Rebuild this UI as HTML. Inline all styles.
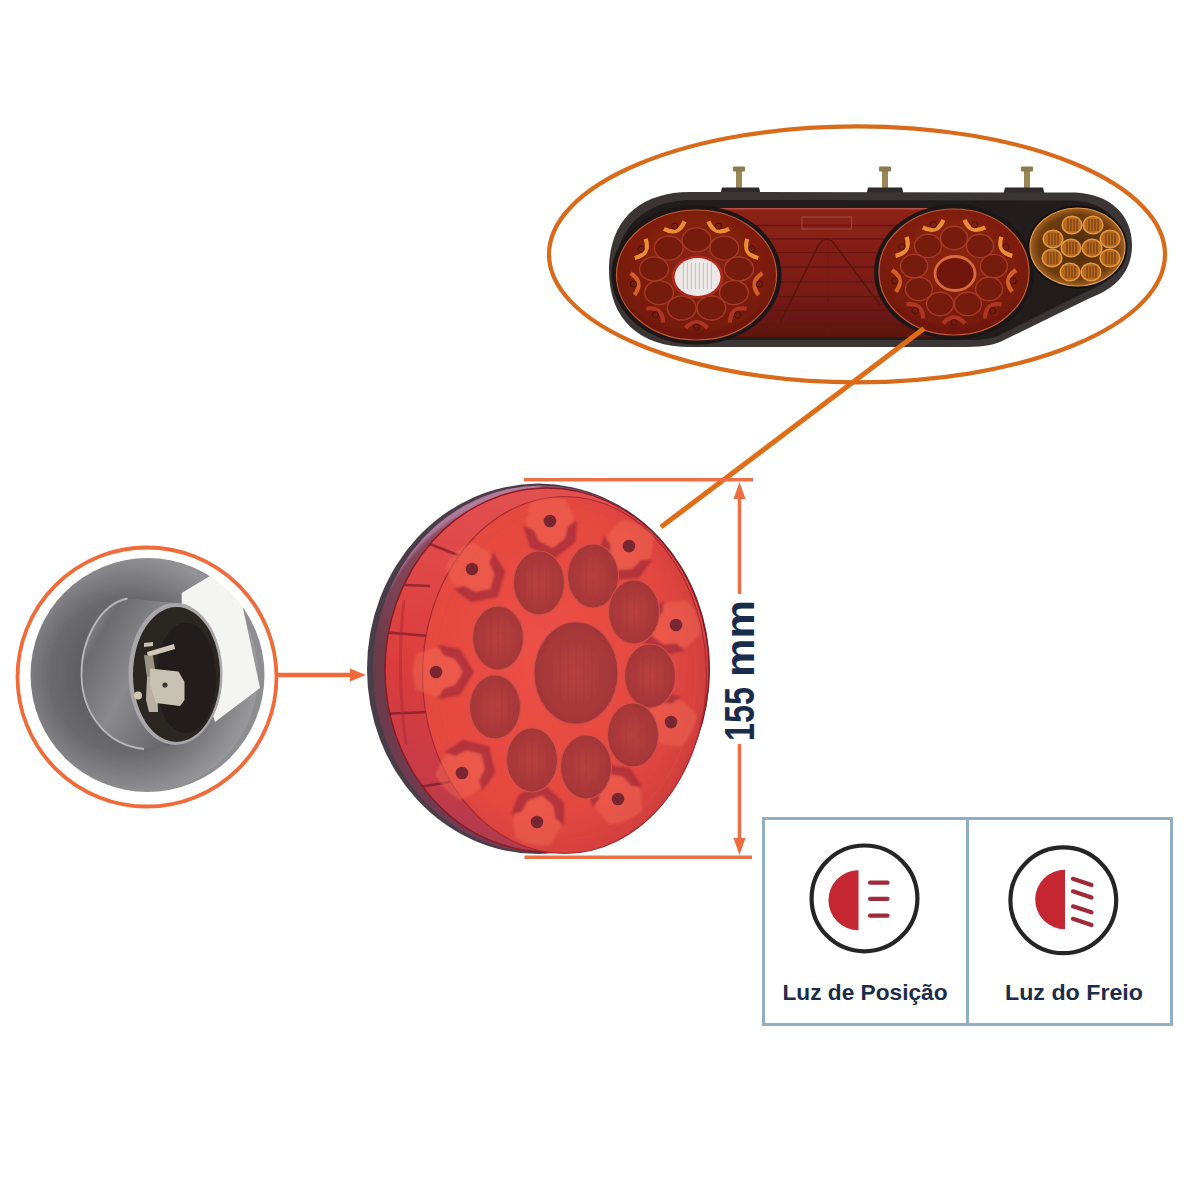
<!DOCTYPE html>
<html><head><meta charset="utf-8">
<style>
html,body{margin:0;padding:0;background:#fff;width:1200px;height:1200px;overflow:hidden}
svg{display:block;position:absolute;left:0;top:0}
.t{font-family:"Liberation Sans",sans-serif;font-weight:bold}
</style></head><body>
<svg width="1200" height="1200" viewBox="0 0 1200 1200">
<defs>
  <radialGradient id="faceG" cx="0.42" cy="0.45" r="0.62">
    <stop offset="0" stop-color="#ec5046"/>
    <stop offset="0.7" stop-color="#e44840"/>
    <stop offset="0.92" stop-color="#d4403e"/>
    <stop offset="1" stop-color="#c03a3c"/>
  </radialGradient>
  <radialGradient id="ledG" cx="0.5" cy="0.5" r="0.55">
    <stop offset="0" stop-color="#b8403e"/>
    <stop offset="1" stop-color="#a03438"/>
  </radialGradient>
  <radialGradient id="grayG" cx="0.45" cy="0.5" r="0.55">
    <stop offset="0" stop-color="#505052"/>
    <stop offset="0.6" stop-color="#6a6a6c"/>
    <stop offset="0.86" stop-color="#8a8a8c"/>
    <stop offset="1" stop-color="#9a9a9c"/>
  </radialGradient>
  <radialGradient id="redLampG" cx="0.5" cy="0.35" r="0.7">
    <stop offset="0" stop-color="#8a2412"/>
    <stop offset="0.6" stop-color="#7e1e10"/>
    <stop offset="1" stop-color="#6a160e"/>
  </radialGradient>
  <radialGradient id="amberG" cx="0.5" cy="0.5" r="0.55">
    <stop offset="0" stop-color="#4e2a0c"/>
    <stop offset="0.75" stop-color="#6e3c10"/>
    <stop offset="0.92" stop-color="#a86424"/>
    <stop offset="1" stop-color="#c88038"/>
  </radialGradient>
  <linearGradient id="rimG" x1="0" y1="0" x2="1" y2="1">
    <stop offset="0" stop-color="#3a2a30"/>
    <stop offset="1" stop-color="#4a3038"/>
  </linearGradient>
  <linearGradient id="bandG" x1="0.3" y1="0" x2="0.15" y2="1">
    <stop offset="0" stop-color="#e25050"/>
    <stop offset="0.5" stop-color="#dc3e3c"/>
    <stop offset="0.8" stop-color="#c83a48"/>
    <stop offset="1" stop-color="#a83a52"/>
  </linearGradient>
  <linearGradient id="wallG" x1="0.3" y1="0" x2="0.1" y2="1">
    <stop offset="0" stop-color="#9a5068"/>
    <stop offset="0.5" stop-color="#6a3a4a"/>
    <stop offset="1" stop-color="#743a54"/>
  </linearGradient>
  <filter id="soft" x="-30%" y="-30%" width="160%" height="160%"><feGaussianBlur stdDeviation="1.5"/></filter>
  <filter id="soft2" x="-5%" y="-5%" width="110%" height="110%"><feGaussianBlur stdDeviation="0.7"/></filter>
  <linearGradient id="cylG" x1="0" y1="0.2" x2="1" y2="0.8">
    <stop offset="0" stop-color="#8e8e90"/>
    <stop offset="0.12" stop-color="#6c6c6e"/>
    <stop offset="0.4" stop-color="#8a8a8c"/>
    <stop offset="0.75" stop-color="#6a6a6c"/>
    <stop offset="1" stop-color="#505052"/>
  </linearGradient>
  <linearGradient id="panelG" x1="0" y1="0" x2="0" y2="1">
    <stop offset="0" stop-color="#8c2219"/>
    <stop offset="0.6" stop-color="#7c1c16"/>
    <stop offset="1" stop-color="#5e1410"/>
  </linearGradient>
  <filter id="soft3" x="-30%" y="-30%" width="160%" height="160%"><feGaussianBlur stdDeviation="0.9"/></filter>
</defs>

<ellipse cx="857" cy="254.3" rx="308" ry="128" fill="none" stroke="#d86a1a" stroke-width="4.2"/>
<g id="bar" filter="url(#soft2)">
<rect x="736" y="170" width="6" height="18" fill="#9a8654"/>
<rect x="733" y="166.5" width="12" height="5" rx="1" fill="#8a7a50"/>
<path d="M719 200 L722 187.5 L759 187.5 L762 200 Z" fill="#2e2c2c"/>
<rect x="882" y="170" width="6" height="18" fill="#9a8654"/>
<rect x="879" y="166.5" width="12" height="5" rx="1" fill="#8a7a50"/>
<path d="M865 200 L868 187.5 L902 187.5 L905 200 Z" fill="#2e2c2c"/>
<rect x="1024" y="170" width="6" height="18" fill="#9a8654"/>
<rect x="1021" y="166.5" width="12" height="5" rx="1" fill="#8a7a50"/>
<path d="M1002 200 L1005 187.5 L1043 187.5 L1046 200 Z" fill="#2e2c2c"/>
<path d="M690 192 L1075 192.5 C1110 194 1133 215 1132 247 C1131 275 1112 290 1090 298 L1000 342 C990 346 980 347 960 347 L690 347 C640 347 609 320 609 270 C609 220 640 192 690 192 Z" fill="#3a3636"/>
<path d="M692 200 L1072 200.5 C1104 202 1124 220 1124 247 C1123 272 1106 284 1086 292 L998 336 C988 340 978 340 960 340 L692 340 C648 340 616 316 616 270 C616 225 648 200 692 200 Z" fill="#201c1c"/>
<rect x="700" y="208" width="240" height="129" fill="url(#panelG)"/>
<line x1="700" y1="225.5" x2="940" y2="225.5" stroke="#5e1410" stroke-width="1.3" opacity="0.8"/>
<line x1="700" y1="239.0" x2="940" y2="239.0" stroke="#5e1410" stroke-width="1.3" opacity="0.8"/>
<line x1="700" y1="252.7" x2="940" y2="252.7" stroke="#5e1410" stroke-width="1.3" opacity="0.8"/>
<line x1="700" y1="267.0" x2="940" y2="267.0" stroke="#5e1410" stroke-width="1.3" opacity="0.8"/>
<line x1="700" y1="282.0" x2="940" y2="282.0" stroke="#5e1410" stroke-width="1.3" opacity="0.8"/>
<line x1="700" y1="296.7" x2="940" y2="296.7" stroke="#5e1410" stroke-width="1.3" opacity="0.8"/>
<line x1="700" y1="310.7" x2="940" y2="310.7" stroke="#5e1410" stroke-width="1.3" opacity="0.8"/>
<line x1="700" y1="324.7" x2="940" y2="324.7" stroke="#5e1410" stroke-width="1.3" opacity="0.8"/>
<line x1="828" y1="240" x2="828" y2="336" stroke="#6a1812" stroke-width="1" opacity="0.6"/>
<path d="M780 323 L818 246 Q827 232 836 246 L880 305" stroke="#5a120e" stroke-width="1.6" fill="none"/>
<rect x="802" y="217" width="49.5" height="12" fill="none" stroke="#a04a40" stroke-width="1.1"/>
<line x1="700" y1="208.8" x2="940" y2="208.8" stroke="#b85048" stroke-width="1.4"/>
<ellipse cx="696.5" cy="275.0" rx="85.0" ry="69.5" fill="#1e1614" />
<ellipse cx="696.5" cy="275.0" rx="80.0" ry="65.0" fill="url(#redLampG)" stroke="#c05a3a" stroke-width="1.2"/>
<ellipse cx="696.5" cy="239.9" rx="14.4" ry="12.0" fill="#741a10" stroke="#a83a26" stroke-width="1.4"/>
<ellipse cx="724.3" cy="248.1" rx="14.4" ry="12.0" fill="#741a10" stroke="#a83a26" stroke-width="1.4"/>
<ellipse cx="739.0" cy="268.9" rx="14.4" ry="12.0" fill="#741a10" stroke="#a83a26" stroke-width="1.4"/>
<ellipse cx="733.9" cy="292.6" rx="14.4" ry="12.0" fill="#741a10" stroke="#a83a26" stroke-width="1.4"/>
<ellipse cx="711.3" cy="308.0" rx="14.4" ry="12.0" fill="#741a10" stroke="#a83a26" stroke-width="1.4"/>
<ellipse cx="681.7" cy="308.0" rx="14.4" ry="12.0" fill="#741a10" stroke="#a83a26" stroke-width="1.4"/>
<ellipse cx="659.1" cy="292.6" rx="14.4" ry="12.0" fill="#741a10" stroke="#a83a26" stroke-width="1.4"/>
<ellipse cx="654.0" cy="268.9" rx="14.4" ry="12.0" fill="#741a10" stroke="#a83a26" stroke-width="1.4"/>
<ellipse cx="668.7" cy="248.1" rx="14.4" ry="12.0" fill="#741a10" stroke="#a83a26" stroke-width="1.4"/>
<path d="M707.4 225.1 Q718.4 237.1 729.4 225.1" transform="rotate(20.0 718.4 226.1)" stroke="#f09438" stroke-width="4.2" fill="none" opacity="0.95"/>
<circle cx="718.4" cy="226.1" r="3" fill="none" stroke="#4a1208" stroke-width="1" transform="rotate(20.0 718.4 226.1)"/>
<path d="M740.9 248.0 Q751.9 260.0 762.9 248.0" transform="rotate(60.0 751.9 249.0)" stroke="#f09438" stroke-width="4.2" fill="none" opacity="0.95"/>
<circle cx="751.9" cy="249.0" r="3" fill="none" stroke="#4a1208" stroke-width="1" transform="rotate(60.0 751.9 249.0)"/>
<path d="M748.5 283.0 Q759.5 295.0 770.5 283.0" transform="rotate(100.0 759.5 284.0)" stroke="#e06a2c" stroke-width="4.2" fill="none" opacity="0.85"/>
<circle cx="759.5" cy="284.0" r="3" fill="none" stroke="#4a1208" stroke-width="1" transform="rotate(100.0 759.5 284.0)"/>
<path d="M726.6 313.8 Q737.6 325.8 748.6 313.8" transform="rotate(140.0 737.6 314.8)" stroke="#c8402a" stroke-width="4.2" fill="none" opacity="0.7"/>
<circle cx="737.6" cy="314.8" r="3" fill="none" stroke="#4a1208" stroke-width="1" transform="rotate(140.0 737.6 314.8)"/>
<path d="M685.5 326.0 Q696.5 338.0 707.5 326.0" transform="rotate(180.0 696.5 327.0)" stroke="#c8402a" stroke-width="4.2" fill="none" opacity="0.7"/>
<circle cx="696.5" cy="327.0" r="3" fill="none" stroke="#4a1208" stroke-width="1" transform="rotate(180.0 696.5 327.0)"/>
<path d="M644.4 313.8 Q655.4 325.8 666.4 313.8" transform="rotate(220.0 655.4 314.8)" stroke="#c8402a" stroke-width="4.2" fill="none" opacity="0.7"/>
<circle cx="655.4" cy="314.8" r="3" fill="none" stroke="#4a1208" stroke-width="1" transform="rotate(220.0 655.4 314.8)"/>
<path d="M622.5 283.0 Q633.5 295.0 644.5 283.0" transform="rotate(260.0 633.5 284.0)" stroke="#e06a2c" stroke-width="4.2" fill="none" opacity="0.85"/>
<circle cx="633.5" cy="284.0" r="3" fill="none" stroke="#4a1208" stroke-width="1" transform="rotate(260.0 633.5 284.0)"/>
<path d="M630.1 248.0 Q641.1 260.0 652.1 248.0" transform="rotate(300.0 641.1 249.0)" stroke="#f09438" stroke-width="4.2" fill="none" opacity="0.95"/>
<circle cx="641.1" cy="249.0" r="3" fill="none" stroke="#4a1208" stroke-width="1" transform="rotate(300.0 641.1 249.0)"/>
<path d="M663.6 225.1 Q674.6 237.1 685.6 225.1" transform="rotate(340.0 674.6 226.1)" stroke="#f09438" stroke-width="4.2" fill="none" opacity="0.95"/>
<circle cx="674.6" cy="226.1" r="3" fill="none" stroke="#4a1208" stroke-width="1" transform="rotate(340.0 674.6 226.1)"/>
<ellipse cx="697.5" cy="277.0" rx="26.0" ry="21.5" fill="#b02a1e" />
<ellipse cx="697.5" cy="277.0" rx="23.0" ry="19.0" fill="#ece8e8" />
<line x1="683.5" y1="263.0" x2="683.5" y2="289.0" stroke="#c8c2c2" stroke-width="1"/>
<line x1="687.5" y1="263.0" x2="687.5" y2="289.0" stroke="#c8c2c2" stroke-width="1"/>
<line x1="691.5" y1="263.0" x2="691.5" y2="289.0" stroke="#c8c2c2" stroke-width="1"/>
<line x1="695.5" y1="263.0" x2="695.5" y2="289.0" stroke="#c8c2c2" stroke-width="1"/>
<line x1="699.5" y1="263.0" x2="699.5" y2="289.0" stroke="#c8c2c2" stroke-width="1"/>
<line x1="703.5" y1="263.0" x2="703.5" y2="289.0" stroke="#c8c2c2" stroke-width="1"/>
<line x1="707.5" y1="263.0" x2="707.5" y2="289.0" stroke="#c8c2c2" stroke-width="1"/>
<line x1="711.5" y1="263.0" x2="711.5" y2="289.0" stroke="#c8c2c2" stroke-width="1"/>
<ellipse cx="954.0" cy="272.0" rx="80.0" ry="67.5" fill="#1e1614" />
<ellipse cx="954.0" cy="272.0" rx="75.0" ry="63.0" fill="url(#redLampG)" stroke="#c05a3a" stroke-width="1.2"/>
<ellipse cx="954.0" cy="238.0" rx="13.5" ry="11.7" fill="#741a10" stroke="#a83a26" stroke-width="1.4"/>
<ellipse cx="980.0" cy="245.9" rx="13.5" ry="11.7" fill="#741a10" stroke="#a83a26" stroke-width="1.4"/>
<ellipse cx="993.9" cy="266.1" rx="13.5" ry="11.7" fill="#741a10" stroke="#a83a26" stroke-width="1.4"/>
<ellipse cx="989.1" cy="289.0" rx="13.5" ry="11.7" fill="#741a10" stroke="#a83a26" stroke-width="1.4"/>
<ellipse cx="967.9" cy="304.0" rx="13.5" ry="11.7" fill="#741a10" stroke="#a83a26" stroke-width="1.4"/>
<ellipse cx="940.1" cy="304.0" rx="13.5" ry="11.7" fill="#741a10" stroke="#a83a26" stroke-width="1.4"/>
<ellipse cx="918.9" cy="289.0" rx="13.5" ry="11.7" fill="#741a10" stroke="#a83a26" stroke-width="1.4"/>
<ellipse cx="914.1" cy="266.1" rx="13.5" ry="11.7" fill="#741a10" stroke="#a83a26" stroke-width="1.4"/>
<ellipse cx="928.0" cy="245.9" rx="13.5" ry="11.7" fill="#741a10" stroke="#a83a26" stroke-width="1.4"/>
<path d="M963.5 223.6 Q974.5 235.6 985.5 223.6" transform="rotate(20.0 974.5 224.6)" stroke="#f09438" stroke-width="4.2" fill="none" opacity="0.95"/>
<circle cx="974.5" cy="224.6" r="3" fill="none" stroke="#4a1208" stroke-width="1" transform="rotate(20.0 974.5 224.6)"/>
<path d="M995.0 245.8 Q1006.0 257.8 1017.0 245.8" transform="rotate(60.0 1006.0 246.8)" stroke="#f09438" stroke-width="4.2" fill="none" opacity="0.95"/>
<circle cx="1006.0" cy="246.8" r="3" fill="none" stroke="#4a1208" stroke-width="1" transform="rotate(60.0 1006.0 246.8)"/>
<path d="M1002.1 279.8 Q1013.1 291.8 1024.1 279.8" transform="rotate(100.0 1013.1 280.8)" stroke="#e06a2c" stroke-width="4.2" fill="none" opacity="0.85"/>
<circle cx="1013.1" cy="280.8" r="3" fill="none" stroke="#4a1208" stroke-width="1" transform="rotate(100.0 1013.1 280.8)"/>
<path d="M981.6 309.6 Q992.6 321.6 1003.6 309.6" transform="rotate(140.0 992.6 310.6)" stroke="#c8402a" stroke-width="4.2" fill="none" opacity="0.7"/>
<circle cx="992.6" cy="310.6" r="3" fill="none" stroke="#4a1208" stroke-width="1" transform="rotate(140.0 992.6 310.6)"/>
<path d="M943.0 321.4 Q954.0 333.4 965.0 321.4" transform="rotate(180.0 954.0 322.4)" stroke="#c8402a" stroke-width="4.2" fill="none" opacity="0.7"/>
<circle cx="954.0" cy="322.4" r="3" fill="none" stroke="#4a1208" stroke-width="1" transform="rotate(180.0 954.0 322.4)"/>
<path d="M904.4 309.6 Q915.4 321.6 926.4 309.6" transform="rotate(220.0 915.4 310.6)" stroke="#c8402a" stroke-width="4.2" fill="none" opacity="0.7"/>
<circle cx="915.4" cy="310.6" r="3" fill="none" stroke="#4a1208" stroke-width="1" transform="rotate(220.0 915.4 310.6)"/>
<path d="M883.9 279.8 Q894.9 291.8 905.9 279.8" transform="rotate(260.0 894.9 280.8)" stroke="#e06a2c" stroke-width="4.2" fill="none" opacity="0.85"/>
<circle cx="894.9" cy="280.8" r="3" fill="none" stroke="#4a1208" stroke-width="1" transform="rotate(260.0 894.9 280.8)"/>
<path d="M891.0 245.8 Q902.0 257.8 913.0 245.8" transform="rotate(300.0 902.0 246.8)" stroke="#f09438" stroke-width="4.2" fill="none" opacity="0.95"/>
<circle cx="902.0" cy="246.8" r="3" fill="none" stroke="#4a1208" stroke-width="1" transform="rotate(300.0 902.0 246.8)"/>
<path d="M922.5 223.6 Q933.5 235.6 944.5 223.6" transform="rotate(340.0 933.5 224.6)" stroke="#f09438" stroke-width="4.2" fill="none" opacity="0.95"/>
<circle cx="933.5" cy="224.6" r="3" fill="none" stroke="#4a1208" stroke-width="1" transform="rotate(340.0 933.5 224.6)"/>
<ellipse cx="955.0" cy="273.5" rx="20.0" ry="17.0" fill="#701810" stroke="#d86a3a" stroke-width="2.8"/>
<ellipse cx="1077.5" cy="247.0" rx="50.0" ry="41.5" fill="#141111" />
<ellipse cx="1077.5" cy="247.0" rx="47.5" ry="39.0" fill="url(#amberG)" stroke="#d89a50" stroke-width="1.2"/>
<ellipse cx="1072.0" cy="225.0" rx="9.8" ry="8.8" fill="#b8681e" stroke="#e49a44" stroke-width="1.6"/>
<line x1="1068" y1="219" x2="1068" y2="231" stroke="#6a3810" stroke-width="1.2" opacity="0.85"/>
<line x1="1071" y1="219" x2="1071" y2="231" stroke="#6a3810" stroke-width="1.2" opacity="0.85"/>
<line x1="1074" y1="219" x2="1074" y2="231" stroke="#6a3810" stroke-width="1.2" opacity="0.85"/>
<line x1="1077" y1="219" x2="1077" y2="231" stroke="#6a3810" stroke-width="1.2" opacity="0.85"/>
<ellipse cx="1093.0" cy="225.0" rx="9.8" ry="8.8" fill="#b8681e" stroke="#e49a44" stroke-width="1.6"/>
<line x1="1089" y1="219" x2="1089" y2="231" stroke="#6a3810" stroke-width="1.2" opacity="0.85"/>
<line x1="1092" y1="219" x2="1092" y2="231" stroke="#6a3810" stroke-width="1.2" opacity="0.85"/>
<line x1="1095" y1="219" x2="1095" y2="231" stroke="#6a3810" stroke-width="1.2" opacity="0.85"/>
<line x1="1098" y1="219" x2="1098" y2="231" stroke="#6a3810" stroke-width="1.2" opacity="0.85"/>
<ellipse cx="1053.0" cy="239.0" rx="9.8" ry="8.8" fill="#b8681e" stroke="#e49a44" stroke-width="1.6"/>
<line x1="1049" y1="233" x2="1049" y2="245" stroke="#6a3810" stroke-width="1.2" opacity="0.85"/>
<line x1="1052" y1="233" x2="1052" y2="245" stroke="#6a3810" stroke-width="1.2" opacity="0.85"/>
<line x1="1055" y1="233" x2="1055" y2="245" stroke="#6a3810" stroke-width="1.2" opacity="0.85"/>
<line x1="1058" y1="233" x2="1058" y2="245" stroke="#6a3810" stroke-width="1.2" opacity="0.85"/>
<ellipse cx="1110.0" cy="239.0" rx="9.8" ry="8.8" fill="#b8681e" stroke="#e49a44" stroke-width="1.6"/>
<line x1="1106" y1="233" x2="1106" y2="245" stroke="#6a3810" stroke-width="1.2" opacity="0.85"/>
<line x1="1109" y1="233" x2="1109" y2="245" stroke="#6a3810" stroke-width="1.2" opacity="0.85"/>
<line x1="1112" y1="233" x2="1112" y2="245" stroke="#6a3810" stroke-width="1.2" opacity="0.85"/>
<line x1="1115" y1="233" x2="1115" y2="245" stroke="#6a3810" stroke-width="1.2" opacity="0.85"/>
<ellipse cx="1071.0" cy="248.0" rx="9.8" ry="8.8" fill="#b8681e" stroke="#e49a44" stroke-width="1.6"/>
<line x1="1067" y1="242" x2="1067" y2="254" stroke="#6a3810" stroke-width="1.2" opacity="0.85"/>
<line x1="1070" y1="242" x2="1070" y2="254" stroke="#6a3810" stroke-width="1.2" opacity="0.85"/>
<line x1="1073" y1="242" x2="1073" y2="254" stroke="#6a3810" stroke-width="1.2" opacity="0.85"/>
<line x1="1076" y1="242" x2="1076" y2="254" stroke="#6a3810" stroke-width="1.2" opacity="0.85"/>
<ellipse cx="1092.0" cy="248.0" rx="9.8" ry="8.8" fill="#b8681e" stroke="#e49a44" stroke-width="1.6"/>
<line x1="1088" y1="242" x2="1088" y2="254" stroke="#6a3810" stroke-width="1.2" opacity="0.85"/>
<line x1="1091" y1="242" x2="1091" y2="254" stroke="#6a3810" stroke-width="1.2" opacity="0.85"/>
<line x1="1094" y1="242" x2="1094" y2="254" stroke="#6a3810" stroke-width="1.2" opacity="0.85"/>
<line x1="1097" y1="242" x2="1097" y2="254" stroke="#6a3810" stroke-width="1.2" opacity="0.85"/>
<ellipse cx="1052.0" cy="258.0" rx="9.8" ry="8.8" fill="#b8681e" stroke="#e49a44" stroke-width="1.6"/>
<line x1="1048" y1="252" x2="1048" y2="264" stroke="#6a3810" stroke-width="1.2" opacity="0.85"/>
<line x1="1051" y1="252" x2="1051" y2="264" stroke="#6a3810" stroke-width="1.2" opacity="0.85"/>
<line x1="1054" y1="252" x2="1054" y2="264" stroke="#6a3810" stroke-width="1.2" opacity="0.85"/>
<line x1="1057" y1="252" x2="1057" y2="264" stroke="#6a3810" stroke-width="1.2" opacity="0.85"/>
<ellipse cx="1110.0" cy="258.0" rx="9.8" ry="8.8" fill="#b8681e" stroke="#e49a44" stroke-width="1.6"/>
<line x1="1106" y1="252" x2="1106" y2="264" stroke="#6a3810" stroke-width="1.2" opacity="0.85"/>
<line x1="1109" y1="252" x2="1109" y2="264" stroke="#6a3810" stroke-width="1.2" opacity="0.85"/>
<line x1="1112" y1="252" x2="1112" y2="264" stroke="#6a3810" stroke-width="1.2" opacity="0.85"/>
<line x1="1115" y1="252" x2="1115" y2="264" stroke="#6a3810" stroke-width="1.2" opacity="0.85"/>
<ellipse cx="1070.0" cy="272.0" rx="9.8" ry="8.8" fill="#b8681e" stroke="#e49a44" stroke-width="1.6"/>
<line x1="1066" y1="266" x2="1066" y2="278" stroke="#6a3810" stroke-width="1.2" opacity="0.85"/>
<line x1="1069" y1="266" x2="1069" y2="278" stroke="#6a3810" stroke-width="1.2" opacity="0.85"/>
<line x1="1072" y1="266" x2="1072" y2="278" stroke="#6a3810" stroke-width="1.2" opacity="0.85"/>
<line x1="1075" y1="266" x2="1075" y2="278" stroke="#6a3810" stroke-width="1.2" opacity="0.85"/>
<ellipse cx="1091.0" cy="272.0" rx="9.8" ry="8.8" fill="#b8681e" stroke="#e49a44" stroke-width="1.6"/>
<line x1="1087" y1="266" x2="1087" y2="278" stroke="#6a3810" stroke-width="1.2" opacity="0.85"/>
<line x1="1090" y1="266" x2="1090" y2="278" stroke="#6a3810" stroke-width="1.2" opacity="0.85"/>
<line x1="1093" y1="266" x2="1093" y2="278" stroke="#6a3810" stroke-width="1.2" opacity="0.85"/>
<line x1="1096" y1="266" x2="1096" y2="278" stroke="#6a3810" stroke-width="1.2" opacity="0.85"/>
</g>
<line x1="661" y1="527" x2="924" y2="328.5" stroke="#e06c16" stroke-width="5"/>
<g id="lamp" filter="url(#soft2)">
<ellipse cx="538.5" cy="668.8" rx="171.5" ry="185.2" fill="#4a3e46" />
<ellipse cx="541.0" cy="669.0" rx="168.0" ry="183.5" fill="url(#wallG)" />
<clipPath id="lampClip"><ellipse cx="541" cy="669" rx="168" ry="183.5"/></clipPath>
<g clip-path="url(#lampClip)"><path d="M380 600 Q420 505 540 484" stroke="#c8a0c8" stroke-width="8" fill="none" opacity="0.55" filter="url(#soft)"/></g>
<ellipse cx="547.0" cy="670.0" rx="162.0" ry="182.0" fill="url(#bandG)" stroke="#8a1a22" stroke-width="1.4"/>
<clipPath id="rimClip"><ellipse cx="547" cy="670" rx="162" ry="182"/></clipPath>
<g clip-path="url(#rimClip)">
<line x1="380" y1="584" x2="430" y2="586" stroke="#7a1a28" stroke-width="2.6" opacity="0.7"/>
<line x1="380" y1="632" x2="430" y2="636" stroke="#7a1a28" stroke-width="2.6" opacity="0.7"/>
<line x1="380" y1="714" x2="430" y2="712" stroke="#7a1a28" stroke-width="2.6" opacity="0.7"/>
<line x1="420" y1="540" x2="460" y2="556" stroke="#7a1a28" stroke-width="2.6" opacity="0.7"/>
<line x1="400" y1="790" x2="450" y2="782" stroke="#7a1a28" stroke-width="2.6" opacity="0.7"/>
<path d="M404 600 Q396 670 406 745" stroke="#b02a34" stroke-width="3" fill="none" opacity="0.5"/>
</g>
<ellipse cx="564.5" cy="675.0" rx="142.0" ry="178.5" fill="url(#faceG)" stroke="#a82a30" stroke-width="1.2"/>
<ellipse cx="566.0" cy="673.0" rx="130.0" ry="166.0" fill="none" stroke="#d84a40" stroke-width="1.5" opacity="0.6"/>
<g transform="translate(550 521) rotate(84.0)" filter="url(#soft3)"><path d="M-20 -18 L-2 -24 L22 -20 L34 0 L22 20 L-2 24 L-20 18 Q-26 0 -20 -18 Z" fill="#f56a52" opacity="0.45"/><path d="M2 -27 L24 -23 L38 0 L24 23 L2 27 L7 17 L19 13 L27 0 L19 -13 L7 -17 Z" fill="#a82a38" opacity="0.8"/></g>
<g transform="translate(629 546) rotate(116.6)" filter="url(#soft3)"><path d="M-20 -18 L-2 -24 L22 -20 L34 0 L22 20 L-2 24 L-20 18 Q-26 0 -20 -18 Z" fill="#f56a52" opacity="0.45"/><path d="M2 -27 L24 -23 L38 0 L24 23 L2 27 L7 17 L19 13 L27 0 L19 -13 L7 -17 Z" fill="#a82a38" opacity="0.8"/></g>
<g transform="translate(472 569) rotate(47.6)" filter="url(#soft3)"><path d="M-20 -18 L-2 -24 L22 -20 L34 0 L22 20 L-2 24 L-20 18 Q-26 0 -20 -18 Z" fill="#f56a52" opacity="0.45"/><path d="M2 -27 L24 -23 L38 0 L24 23 L2 27 L7 17 L19 13 L27 0 L19 -13 L7 -17 Z" fill="#a82a38" opacity="0.8"/></g>
<g transform="translate(676 625) rotate(156.9)" filter="url(#soft3)"><path d="M-20 -18 L-2 -24 L22 -20 L34 0 L22 20 L-2 24 L-20 18 Q-26 0 -20 -18 Z" fill="#f56a52" opacity="0.45"/><path d="M2 -27 L24 -23 L38 0 L24 23 L2 27 L7 17 L19 13 L27 0 L19 -13 L7 -17 Z" fill="#a82a38" opacity="0.8"/></g>
<g transform="translate(436 672) rotate(0.0)" filter="url(#soft3)"><path d="M-20 -18 L-2 -24 L22 -20 L34 0 L22 20 L-2 24 L-20 18 Q-26 0 -20 -18 Z" fill="#f56a52" opacity="0.45"/><path d="M2 -27 L24 -23 L38 0 L24 23 L2 27 L7 17 L19 13 L27 0 L19 -13 L7 -17 Z" fill="#a82a38" opacity="0.8"/></g>
<g transform="translate(671 722) rotate(-154.5)" filter="url(#soft3)"><path d="M-20 -18 L-2 -24 L22 -20 L34 0 L22 20 L-2 24 L-20 18 Q-26 0 -20 -18 Z" fill="#f56a52" opacity="0.45"/><path d="M2 -27 L24 -23 L38 0 L24 23 L2 27 L7 17 L19 13 L27 0 L19 -13 L7 -17 Z" fill="#a82a38" opacity="0.8"/></g>
<g transform="translate(462 773) rotate(-44.2)" filter="url(#soft3)"><path d="M-20 -18 L-2 -24 L22 -20 L34 0 L22 20 L-2 24 L-20 18 Q-26 0 -20 -18 Z" fill="#f56a52" opacity="0.45"/><path d="M2 -27 L24 -23 L38 0 L24 23 L2 27 L7 17 L19 13 L27 0 L19 -13 L7 -17 Z" fill="#a82a38" opacity="0.8"/></g>
<g transform="translate(537 822) rotate(-79.1)" filter="url(#soft3)"><path d="M-20 -18 L-2 -24 L22 -20 L34 0 L22 20 L-2 24 L-20 18 Q-26 0 -20 -18 Z" fill="#f56a52" opacity="0.45"/><path d="M2 -27 L24 -23 L38 0 L24 23 L2 27 L7 17 L19 13 L27 0 L19 -13 L7 -17 Z" fill="#a82a38" opacity="0.8"/></g>
<g transform="translate(618 799) rotate(-112.3)" filter="url(#soft3)"><path d="M-20 -18 L-2 -24 L22 -20 L34 0 L22 20 L-2 24 L-20 18 Q-26 0 -20 -18 Z" fill="#f56a52" opacity="0.45"/><path d="M2 -27 L24 -23 L38 0 L24 23 L2 27 L7 17 L19 13 L27 0 L19 -13 L7 -17 Z" fill="#a82a38" opacity="0.8"/></g>
<ellipse cx="576.0" cy="673.0" rx="42.0" ry="51.0" fill="url(#ledG)" stroke="#c85048" stroke-width="1.2"/>
<ellipse cx="539.0" cy="583.0" rx="25.5" ry="32.0" fill="url(#ledG)" stroke="#d0504a" stroke-width="1.2" opacity="0.95"/>
<line x1="525" y1="563" x2="525" y2="603" stroke="#a8383a" stroke-width="1.5" opacity="0.5"/>
<line x1="532" y1="563" x2="532" y2="603" stroke="#a8383a" stroke-width="1.5" opacity="0.5"/>
<line x1="539" y1="563" x2="539" y2="603" stroke="#a8383a" stroke-width="1.5" opacity="0.5"/>
<line x1="546" y1="563" x2="546" y2="603" stroke="#a8383a" stroke-width="1.5" opacity="0.5"/>
<line x1="553" y1="563" x2="553" y2="603" stroke="#a8383a" stroke-width="1.5" opacity="0.5"/>
<ellipse cx="593.0" cy="576.0" rx="25.5" ry="32.0" fill="url(#ledG)" stroke="#d0504a" stroke-width="1.2" opacity="0.95"/>
<line x1="579" y1="556" x2="579" y2="596" stroke="#a8383a" stroke-width="1.5" opacity="0.5"/>
<line x1="586" y1="556" x2="586" y2="596" stroke="#a8383a" stroke-width="1.5" opacity="0.5"/>
<line x1="593" y1="556" x2="593" y2="596" stroke="#a8383a" stroke-width="1.5" opacity="0.5"/>
<line x1="600" y1="556" x2="600" y2="596" stroke="#a8383a" stroke-width="1.5" opacity="0.5"/>
<line x1="607" y1="556" x2="607" y2="596" stroke="#a8383a" stroke-width="1.5" opacity="0.5"/>
<ellipse cx="634.0" cy="612.0" rx="25.5" ry="32.0" fill="url(#ledG)" stroke="#d0504a" stroke-width="1.2" opacity="0.95"/>
<line x1="620" y1="592" x2="620" y2="632" stroke="#a8383a" stroke-width="1.5" opacity="0.5"/>
<line x1="627" y1="592" x2="627" y2="632" stroke="#a8383a" stroke-width="1.5" opacity="0.5"/>
<line x1="634" y1="592" x2="634" y2="632" stroke="#a8383a" stroke-width="1.5" opacity="0.5"/>
<line x1="641" y1="592" x2="641" y2="632" stroke="#a8383a" stroke-width="1.5" opacity="0.5"/>
<line x1="648" y1="592" x2="648" y2="632" stroke="#a8383a" stroke-width="1.5" opacity="0.5"/>
<ellipse cx="650.0" cy="676.0" rx="25.5" ry="32.0" fill="url(#ledG)" stroke="#d0504a" stroke-width="1.2" opacity="0.95"/>
<line x1="636" y1="656" x2="636" y2="696" stroke="#a8383a" stroke-width="1.5" opacity="0.5"/>
<line x1="643" y1="656" x2="643" y2="696" stroke="#a8383a" stroke-width="1.5" opacity="0.5"/>
<line x1="650" y1="656" x2="650" y2="696" stroke="#a8383a" stroke-width="1.5" opacity="0.5"/>
<line x1="657" y1="656" x2="657" y2="696" stroke="#a8383a" stroke-width="1.5" opacity="0.5"/>
<line x1="664" y1="656" x2="664" y2="696" stroke="#a8383a" stroke-width="1.5" opacity="0.5"/>
<ellipse cx="633.0" cy="735.0" rx="25.5" ry="32.0" fill="url(#ledG)" stroke="#d0504a" stroke-width="1.2" opacity="0.95"/>
<line x1="619" y1="715" x2="619" y2="755" stroke="#a8383a" stroke-width="1.5" opacity="0.5"/>
<line x1="626" y1="715" x2="626" y2="755" stroke="#a8383a" stroke-width="1.5" opacity="0.5"/>
<line x1="633" y1="715" x2="633" y2="755" stroke="#a8383a" stroke-width="1.5" opacity="0.5"/>
<line x1="640" y1="715" x2="640" y2="755" stroke="#a8383a" stroke-width="1.5" opacity="0.5"/>
<line x1="647" y1="715" x2="647" y2="755" stroke="#a8383a" stroke-width="1.5" opacity="0.5"/>
<ellipse cx="586.0" cy="767.0" rx="25.5" ry="32.0" fill="url(#ledG)" stroke="#d0504a" stroke-width="1.2" opacity="0.95"/>
<line x1="572" y1="747" x2="572" y2="787" stroke="#a8383a" stroke-width="1.5" opacity="0.5"/>
<line x1="579" y1="747" x2="579" y2="787" stroke="#a8383a" stroke-width="1.5" opacity="0.5"/>
<line x1="586" y1="747" x2="586" y2="787" stroke="#a8383a" stroke-width="1.5" opacity="0.5"/>
<line x1="593" y1="747" x2="593" y2="787" stroke="#a8383a" stroke-width="1.5" opacity="0.5"/>
<line x1="600" y1="747" x2="600" y2="787" stroke="#a8383a" stroke-width="1.5" opacity="0.5"/>
<ellipse cx="532.0" cy="760.0" rx="25.5" ry="32.0" fill="url(#ledG)" stroke="#d0504a" stroke-width="1.2" opacity="0.95"/>
<line x1="518" y1="740" x2="518" y2="780" stroke="#a8383a" stroke-width="1.5" opacity="0.5"/>
<line x1="525" y1="740" x2="525" y2="780" stroke="#a8383a" stroke-width="1.5" opacity="0.5"/>
<line x1="532" y1="740" x2="532" y2="780" stroke="#a8383a" stroke-width="1.5" opacity="0.5"/>
<line x1="539" y1="740" x2="539" y2="780" stroke="#a8383a" stroke-width="1.5" opacity="0.5"/>
<line x1="546" y1="740" x2="546" y2="780" stroke="#a8383a" stroke-width="1.5" opacity="0.5"/>
<ellipse cx="495.0" cy="707.0" rx="25.5" ry="32.0" fill="url(#ledG)" stroke="#d0504a" stroke-width="1.2" opacity="0.95"/>
<line x1="481" y1="687" x2="481" y2="727" stroke="#a8383a" stroke-width="1.5" opacity="0.5"/>
<line x1="488" y1="687" x2="488" y2="727" stroke="#a8383a" stroke-width="1.5" opacity="0.5"/>
<line x1="495" y1="687" x2="495" y2="727" stroke="#a8383a" stroke-width="1.5" opacity="0.5"/>
<line x1="502" y1="687" x2="502" y2="727" stroke="#a8383a" stroke-width="1.5" opacity="0.5"/>
<line x1="509" y1="687" x2="509" y2="727" stroke="#a8383a" stroke-width="1.5" opacity="0.5"/>
<ellipse cx="498.0" cy="638.0" rx="25.5" ry="32.0" fill="url(#ledG)" stroke="#d0504a" stroke-width="1.2" opacity="0.95"/>
<line x1="484" y1="618" x2="484" y2="658" stroke="#a8383a" stroke-width="1.5" opacity="0.5"/>
<line x1="491" y1="618" x2="491" y2="658" stroke="#a8383a" stroke-width="1.5" opacity="0.5"/>
<line x1="498" y1="618" x2="498" y2="658" stroke="#a8383a" stroke-width="1.5" opacity="0.5"/>
<line x1="505" y1="618" x2="505" y2="658" stroke="#a8383a" stroke-width="1.5" opacity="0.5"/>
<line x1="512" y1="618" x2="512" y2="658" stroke="#a8383a" stroke-width="1.5" opacity="0.5"/>
<line x1="552" y1="638" x2="552" y2="710" stroke="#a8383a" stroke-width="1.6" opacity="0.45"/>
<line x1="560" y1="638" x2="560" y2="710" stroke="#a8383a" stroke-width="1.6" opacity="0.45"/>
<line x1="568" y1="638" x2="568" y2="710" stroke="#a8383a" stroke-width="1.6" opacity="0.45"/>
<line x1="576" y1="638" x2="576" y2="710" stroke="#a8383a" stroke-width="1.6" opacity="0.45"/>
<line x1="584" y1="638" x2="584" y2="710" stroke="#a8383a" stroke-width="1.6" opacity="0.45"/>
<line x1="592" y1="638" x2="592" y2="710" stroke="#a8383a" stroke-width="1.6" opacity="0.45"/>
<line x1="600" y1="638" x2="600" y2="710" stroke="#a8383a" stroke-width="1.6" opacity="0.45"/>
<g fill="#7a2830">
<circle cx="550" cy="521" r="6.3"/>
<circle cx="629" cy="546" r="6.3"/>
<circle cx="472" cy="569" r="6.3"/>
<circle cx="676" cy="625" r="6.3"/>
<circle cx="436" cy="672" r="6.3"/>
<circle cx="671" cy="722" r="6.3"/>
<circle cx="462" cy="773" r="6.3"/>
<circle cx="537" cy="822" r="6.3"/>
<circle cx="618" cy="799" r="6.3"/>
</g></g>
<g stroke="#ec7046" fill="none">
  <line x1="524" y1="479.8" x2="753" y2="479.8" stroke-width="3.4"/>
  <line x1="524.5" y1="857.3" x2="752" y2="857.3" stroke-width="3.4"/>
  <line x1="739.5" y1="492" x2="739.5" y2="594" stroke-width="3.6"/>
  <line x1="739.5" y1="744" x2="739.5" y2="843" stroke-width="3.6"/>
</g>
<g fill="#ee6c40">
  <path d="M739.5 482 L733.5 499 L745.5 499 Z"/>
  <path d="M739.5 855 L733.5 838 L745.5 838 Z"/>
</g>
<text class="t" x="0" y="0" transform="translate(754 741) rotate(-90)" font-size="42" textLength="54" lengthAdjust="spacingAndGlyphs" fill="#1a2c4c">155</text>
<text class="t" x="0" y="0" transform="translate(754 677) rotate(-90)" font-size="41" textLength="77" lengthAdjust="spacingAndGlyphs" fill="#1a2c4c">mm</text>

<circle cx="147" cy="677" r="129.5" fill="none" stroke="#f06a3a" stroke-width="3.8"/>
<clipPath id="connClip"><circle cx="147.5" cy="675" r="117"/></clipPath>
<g clip-path="url(#connClip)" filter="url(#soft2)">
<rect x="20" y="550" width="260" height="260" fill="#8e8e90"/>
<circle cx="140" cy="675" r="118" fill="url(#grayG)"/>
<path d="M210 576 L181.7 593 L181.7 620 L215 722 L260 688 L243 608 L268 600 L268 540 L215 540 Z" fill="#f4f4f2"/>
<path d="M127.5 598.5 C100 604 81 640 81.5 675 C82 712 105 745 144 749 L175 745 C201 745 222 713 222 675 C222 637 201 603 175 603 Z" fill="url(#cylG)"/>
<path d="M127.5 598.5 C100 604 81 640 81.5 675 C82 712 105 745 144 749" fill="none" stroke="#b8b8ba" stroke-width="1.8"/>
<ellipse cx="175.5" cy="674" rx="47" ry="71" fill="#a8a8aa"/>
<ellipse cx="176.5" cy="674.5" rx="43.5" ry="67.5" fill="#2c2522"/>
<ellipse cx="186" cy="678" rx="30" ry="55" fill="#221c1a"/>
<path d="M144 643 L153 642 L153 646 L144 647 Z" fill="#c8c0b0"/>
<path d="M147 652 L174 644 L175 649 L148 657 Z" fill="#d0c8b8"/>
<path d="M144 655 L153 656 L156 676 L147 678 Z" fill="#9a9282"/>
<path d="M147 677 L157 676 L158 712 L149 712 L146 700 Z" fill="#b8b0a0"/>
<path d="M150 668.5 L178.5 671.5 L184.5 682 L184.5 700 L180 706 L156 703 L150 685 Z" fill="#c8c2b2"/>
<circle cx="165" cy="685" r="2.6" fill="#3a3430"/>
<circle cx="138" cy="695.5" r="4" fill="#d0c8b4"/>
</g>
<line x1="276" y1="675" x2="353" y2="675" stroke="#f06a3a" stroke-width="4.4"/>
<path d="M366 675 L350 668.5 L350 681.5 Z" fill="#f06a3a"/>

<rect x="763.5" y="818.5" width="408" height="206" fill="#fff" stroke="#90aec4" stroke-width="3"/>
<line x1="967.5" y1="818" x2="967.5" y2="1025" stroke="#90aec4" stroke-width="3"/>
<circle cx="864.5" cy="898.4" r="52.9" fill="none" stroke="#262424" stroke-width="4.2"/>
<path d="M858.5 870.2 A30 30 0 0 0 858.5 930.3 Z" fill="#c42632"/>
<g stroke="#a02a3a" stroke-width="4.2" stroke-linecap="round"><line x1="870" y1="882.7" x2="887.5" y2="882.7"/><line x1="870" y1="898.9" x2="887.5" y2="898.9"/><line x1="870" y1="915.7" x2="887.5" y2="915.7"/></g>
<circle cx="1063.3" cy="900.3" r="52.9" fill="none" stroke="#262424" stroke-width="4.2"/>
<path d="M1065 869.7 A29.8 29.8 0 0 0 1065 929.3 Z" fill="#c42632"/>
<g stroke="#a02a3a" stroke-width="4.2" stroke-linecap="round"><line x1="1073" y1="878.8" x2="1091.5" y2="885"/><line x1="1073" y1="891.3" x2="1091.5" y2="897.5"/><line x1="1073" y1="906.3" x2="1091.5" y2="912.3"/><line x1="1073" y1="918.8" x2="1091.5" y2="925"/></g>
<text class="t" x="782.5" y="999.5" font-size="22" textLength="165" lengthAdjust="spacingAndGlyphs" fill="#1e2c4a">Luz de Posição</text>
<text class="t" x="1005" y="999.5" font-size="22" textLength="138" lengthAdjust="spacingAndGlyphs" fill="#1e2c4a">Luz do Freio</text>

</svg>
</body></html>
